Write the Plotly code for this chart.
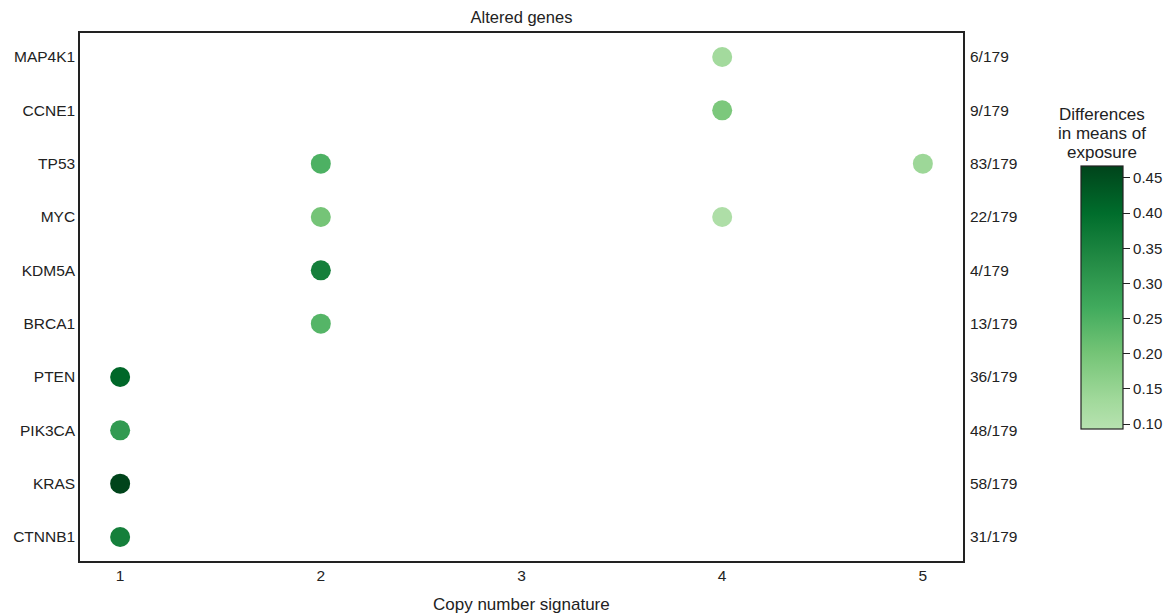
import plotly.graph_objects as go

genes = ["CTNNB1", "KRAS", "PIK3CA", "PTEN", "BRCA1", "KDM5A", "MYC", "TP53", "CCNE1", "MAP4K1"]
counts = ["31/179", "58/179", "48/179", "36/179", "13/179", "4/179", "22/179", "83/179", "9/179", "6/179"]

pt_gene = ["MAP4K1", "CCNE1", "TP53", "TP53", "MYC", "MYC", "KDM5A", "BRCA1", "PTEN", "PIK3CA", "KRAS", "CTNNB1"]
pt_sig = [4, 4, 2, 5, 2, 4, 2, 2, 1, 1, 1, 1]
pt_val = [0.13, 0.19, 0.25, 0.14, 0.20, 0.11, 0.36, 0.24, 0.41, 0.30, 0.47, 0.36]

sig_ticks = [1, 2, 3, 4, 5]
cbar_title = ["Differences", "in means of", "exposure"]

greens = [
    [0.0, "rgb(183,226,176)"],
    [0.11, "rgb(161,217,155)"],
    [0.29, "rgb(116,196,118)"],
    [0.46, "rgb(65,171,93)"],
    [0.64, "rgb(35,139,69)"],
    [0.82, "rgb(0,109,44)"],
    [1.0, "rgb(0,68,27)"],
]

font = "Liberation Sans, Arial, sans-serif"
gidx = {g: i for i, g in enumerate(genes)}

L, R, T, B = 80, 963, 33, 561
W, H = 1176, 613
pw, ph = R - L, B - T

fig = go.Figure()
fig.add_trace(go.Scatter(
    x=pt_sig, y=[gidx[g] for g in pt_gene], mode="markers",
    marker=dict(size=20, color=pt_val, colorscale=greens, cmin=0.093, cmax=0.467,
                line=dict(width=0),
                colorbar=dict(
                    thickness=42, thicknessmode="pixels", len=263, lenmode="pixels",
                    x=(1081 - L) / pw, xanchor="left", xpad=0,
                    y=(B - 297.5) / ph, yanchor="middle", ypad=0,
                    outlinewidth=1.2, outlinecolor="#222",
                    ticks="outside", ticklen=7, tickcolor="#222",
                    tickvals=[0.10, 0.15, 0.20, 0.25, 0.30, 0.35, 0.40, 0.45],
                    tickformat=".2f", tickfont=dict(size=15, color="#222"))),
    showlegend=False, hoverinfo="skip"))
fig.add_trace(go.Scatter(x=[None], y=[0], yaxis="y2", showlegend=False, hoverinfo="skip"))

for i, line in enumerate(cbar_title):
    fig.add_annotation(text=line, xref="paper", yref="paper",
                       x=(1102 - L) / pw, y=(B - (115 + 18.5 * i)) / ph,
                       xanchor="center", yanchor="middle", showarrow=False,
                       font=dict(size=17, color="#222"))

fig.add_annotation(text="Copy number signature", xref="paper", yref="paper",
                   x=0.5, y=(B - 604) / ph, xanchor="center", yanchor="middle",
                   showarrow=False, font=dict(size=17, color="#222"))

fig.update_layout(
    width=W, height=H,
    margin=dict(l=L, r=W - R, t=T, b=H - B, autoexpand=False),
    paper_bgcolor="white", plot_bgcolor="white",
    font=dict(family=font, size=15.5, color="#222"),
    title=dict(text="Altered genes", x=(L + R) / 2 / W, xanchor="center",
               y=1 - 17 / H, yanchor="middle", font=dict(size=16.5, color="#222")),
    xaxis=dict(range=[0.8, 5.2], tickvals=sig_ticks, ticktext=[str(t) for t in sig_ticks],
               showgrid=False, zeroline=False, showline=True, linecolor="#222", linewidth=1.5,
               mirror=True, ticks="", automargin=False),
    yaxis=dict(range=[-0.45, 9.45], tickvals=list(range(len(genes))), ticktext=genes,
               showgrid=False, zeroline=False, showline=True, linecolor="#222", linewidth=1.5,
               mirror=True, ticks="", ticklabelstandoff=0, automargin=False),
    yaxis2=dict(range=[-0.45, 9.45], tickvals=list(range(len(genes))), ticktext=counts,
                overlaying="y", side="right", showgrid=False, zeroline=False,
                showline=False, ticks="", ticklabelstandoff=6, automargin=False),
)

fig.write_html("out.html")
